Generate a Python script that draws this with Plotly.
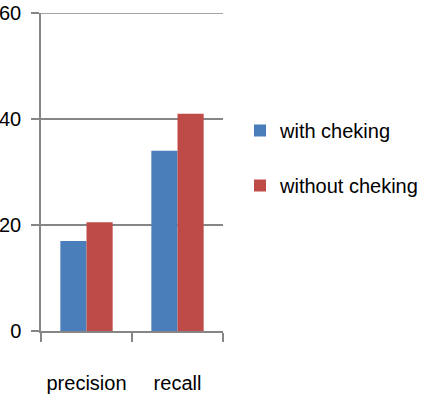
import plotly.graph_objects as go

categories = ["precision", "recall"]
with_cheking = [17, 34]
without_cheking = [20.5, 41]
y_ticks = [0, 20, 40, 60]

FONT = "Liberation Sans, Arial, sans-serif"
GRID = "#868686"

W, H = 423, 398

fig = go.Figure()
fig.add_trace(go.Bar(x=categories, y=with_cheking, name="with cheking",
                     marker=dict(color="#4a7ebb", line=dict(width=0)), legendgroup="a"))
fig.add_trace(go.Bar(x=categories, y=without_cheking, name="without cheking",
                     marker=dict(color="#be4b48", line=dict(width=0)), legendgroup="b"))

fig.update_layout(
    width=W, height=H,
    margin=dict(l=41, r=200, t=13, b=67),
    paper_bgcolor="white", plot_bgcolor="white",
    barmode="group", bargap=0.425, bargroupgap=0,
    font=dict(family=FONT, size=20, color="black"),
    legend=dict(xref="container", yref="container", x=240 / W, y=1 - 111 / H,
                xanchor="left", yanchor="top", tracegroupgap=26,
                font=dict(size=20), itemwidth=30, bgcolor="rgba(0,0,0,0)"),
    showlegend=True,
)
# top gridline (plotly drops gridlines lying on the plot edge)
fig.add_shape(type="line", xref="paper", x0=0, x1=1, yref="y",
              y0=y_ticks[-1], y1=y_ticks[-1], line=dict(color=GRID, width=1.5),
              layer="below")
fig.update_yaxes(range=[y_ticks[0], y_ticks[-1]], tickvals=y_ticks, showgrid=True,
                 gridcolor=GRID, gridwidth=1.5, showline=True, linecolor=GRID,
                 linewidth=1.5, ticks="outside", ticklen=8, tickcolor=GRID,
                 tickwidth=1.5, zeroline=False, ticklabelstandoff=6, automargin=False)
fig.update_xaxes(showline=True, linecolor=GRID, linewidth=1.5, ticks="outside",
                 tickson="boundaries", ticklen=9, tickcolor=GRID, tickwidth=1.5,
                 showgrid=False, tickangle=0, ticklabelstandoff=33, automargin=False)

fig.write_html("out.html", config={"displayModeBar": False},
               post_script="document.body.style.margin='0';")
